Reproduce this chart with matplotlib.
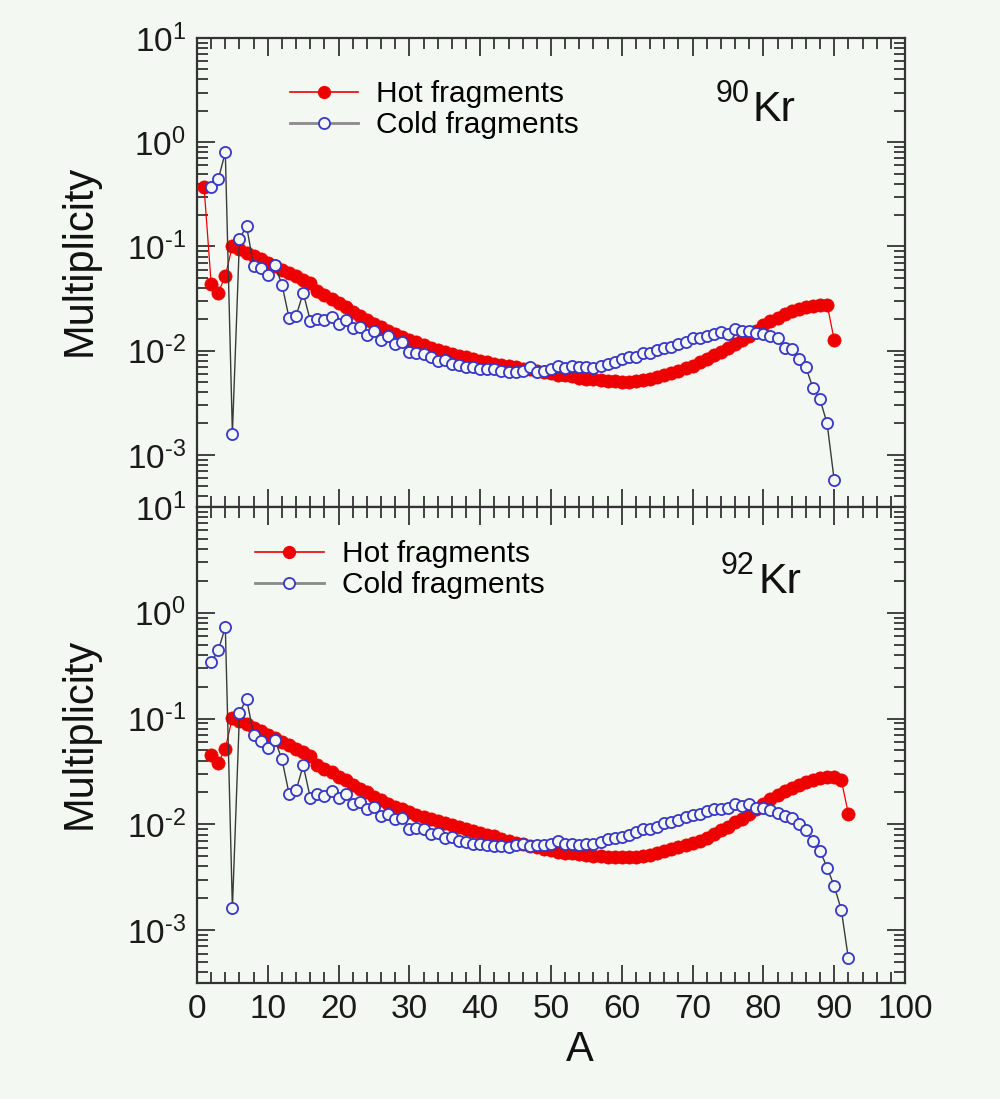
import numpy as np
import matplotlib
matplotlib.use('Agg')
import matplotlib.pyplot as plt
from matplotlib.lines import Line2D
from matplotlib.ticker import LogLocator, MultipleLocator, FuncFormatter, NullFormatter

plt.rcParams['font.family'] = ['Liberation Sans', 'DejaVu Sans']
plt.rcParams['mathtext.fontset'] = 'custom'
plt.rcParams['mathtext.rm'] = 'Liberation Sans'
plt.rcParams['mathtext.it'] = 'Liberation Sans'
plt.rcParams['mathtext.default'] = 'regular'

# ---------------- data ----------------
a_hot_90 = list(range(1, 91))
hot_90 = [0.37, 0.044, 0.036, 0.052, 0.101, 0.094, 0.087, 0.081, 0.075, 0.070,
          0.065, 0.060, 0.056, 0.052, 0.048, 0.045, 0.037, 0.034, 0.031, 0.0285,
          0.026, 0.0237, 0.0217, 0.0198, 0.0182, 0.0168, 0.0156, 0.0145, 0.0135, 0.0127,
          0.0120, 0.0113, 0.0107, 0.0102, 0.0097, 0.0093, 0.0089, 0.0086, 0.0083, 0.0080,
          0.0077, 0.0075, 0.0073, 0.0071, 0.0069, 0.0067, 0.0066, 0.0064, 0.0062, 0.0061,
          0.0059, 0.0058, 0.0057, 0.0055, 0.0054, 0.0053, 0.0052, 0.0051, 0.0051, 0.0050,
          0.0050, 0.0051, 0.0052, 0.0054, 0.0056, 0.0058, 0.0061, 0.0064, 0.0068, 0.0072,
          0.0077, 0.0083, 0.0090, 0.0098, 0.0107, 0.0116, 0.0127, 0.0138, 0.0155, 0.0175,
          0.0192, 0.0208, 0.0225, 0.0240, 0.0252, 0.0262, 0.0270, 0.0276, 0.0277, 0.0127]

a_cold_90 = list(range(2, 91))
cold_90 = [0.37, 0.44, 0.80, 0.0016, 0.118, 0.157, 0.065, 0.062, 0.053,
           0.0665, 0.043, 0.0207, 0.0216, 0.0359, 0.0194, 0.0202, 0.0198, 0.0212, 0.0181,
           0.0198, 0.0166, 0.0170, 0.0142, 0.0155, 0.0127, 0.0139, 0.0117, 0.0122, 0.0098,
           0.0094, 0.0092, 0.0086, 0.0080, 0.0082, 0.0075, 0.0073, 0.0069, 0.0069, 0.0067,
           0.0066, 0.0067, 0.0064, 0.0063, 0.0062, 0.0064, 0.0069, 0.0063, 0.0064, 0.0066,
           0.0072, 0.0068, 0.0071, 0.0069, 0.0069, 0.0068, 0.0072, 0.0075, 0.0078, 0.0084,
           0.0086, 0.0087, 0.0094, 0.0094, 0.0102, 0.0107, 0.0109, 0.0117, 0.0122, 0.0131,
           0.0133, 0.0139, 0.0146, 0.0152, 0.0146, 0.0163, 0.0156, 0.0156, 0.0149, 0.0146,
           0.0139, 0.0131, 0.0107, 0.0104, 0.0084, 0.0069, 0.0044, 0.0034, 0.0020, 0.00057]

a_hot_92 = list(range(2, 93))
hot_92 = [0.045, 0.038, 0.052, 0.102, 0.095, 0.088, 0.082, 0.076, 0.070,
          0.065, 0.060, 0.056, 0.052, 0.048, 0.044, 0.036, 0.033, 0.031, 0.028,
          0.026, 0.0237, 0.0217, 0.020, 0.0183, 0.0168, 0.0156, 0.0146, 0.0138, 0.0130,
          0.0123, 0.0117, 0.0113, 0.0107, 0.0102, 0.0098, 0.0094, 0.0091, 0.0087, 0.0083,
          0.0080, 0.0077, 0.0073, 0.0070, 0.0067, 0.0065, 0.0063, 0.0061, 0.0059, 0.0057,
          0.0055, 0.0054, 0.0053, 0.0052, 0.0051, 0.0050, 0.0050, 0.0049, 0.0049, 0.0049,
          0.0049, 0.0049, 0.0050, 0.0051, 0.0054, 0.0056, 0.0059, 0.0061, 0.0064, 0.0066,
          0.0070, 0.0075, 0.0081, 0.0088, 0.0095, 0.0104, 0.0113, 0.0125, 0.0138, 0.0155,
          0.0172, 0.0190, 0.0207, 0.0222, 0.0237, 0.0250, 0.0262, 0.0272, 0.0278, 0.0280,
          0.0262, 0.0126]

a_cold_92 = list(range(2, 93))
cold_92 = [0.34, 0.44, 0.73, 0.0016, 0.113, 0.154, 0.070, 0.061, 0.0525,
           0.063, 0.041, 0.0195, 0.021, 0.036, 0.0179, 0.0195, 0.0187, 0.0208, 0.0179,
           0.0195, 0.0157, 0.0164, 0.0140, 0.0147, 0.0120, 0.0126, 0.0113, 0.0115, 0.0090,
           0.0092, 0.0090, 0.0081, 0.0083, 0.0074, 0.0076, 0.0069, 0.0068, 0.0065, 0.0065,
           0.0064, 0.0062, 0.0062, 0.0061, 0.0064, 0.0065, 0.0062, 0.0064, 0.0064, 0.0065,
           0.0069, 0.0065, 0.0065, 0.0064, 0.0065, 0.0065, 0.0068, 0.0073, 0.0074, 0.0076,
           0.0079, 0.0085, 0.0090, 0.0090, 0.0094, 0.0103, 0.0105, 0.0110, 0.0118, 0.0123,
           0.0126, 0.0134, 0.0140, 0.0140, 0.0144, 0.0157, 0.0150, 0.0157, 0.0144, 0.0144,
           0.0137, 0.0129, 0.0120, 0.0115, 0.0101, 0.0088, 0.0069, 0.0056, 0.0039, 0.0026,
           0.00156, 0.00054]

legend_labels = ['Hot fragments', 'Cold fragments']
x_ticks = [0, 10, 20, 30, 40, 50, 60, 70, 80, 90, 100]

# ---------------- style ----------------
BG = '#f4f8f2'
RED = '#ee0000'
BLUE = '#3737c8'
LINE_DARK = '#3a3a3a'
LEG_GRAY = '#8a8a8a'

fig = plt.figure(figsize=(10, 10.99), dpi=100, facecolor=BG)
ax1 = fig.add_axes([0.197, 0.5387, 0.708, 0.4267])
ax2 = fig.add_axes([0.197, 0.1056, 0.708, 0.4331])


def sup_fmt(v, p):
    e = int(round(np.log10(v)))
    s = str(abs(e))
    if e < 0:
        s = '\u2010' + s
    return r'$10^{%s}$' % s


def style(ax, show_x):
    ax.set_facecolor(BG)
    ax.set_yscale('log')
    ax.set_xlim(0, 100)
    ax.set_ylim(10 ** -3.5, 10)
    ax.xaxis.set_major_locator(MultipleLocator(10))
    ax.xaxis.set_minor_locator(MultipleLocator(2))
    ax.yaxis.set_major_locator(LogLocator(base=10, numticks=20))
    ax.yaxis.set_minor_locator(LogLocator(base=10, subs=np.arange(2, 10), numticks=20))
    ax.yaxis.set_major_formatter(FuncFormatter(sup_fmt))
    ax.yaxis.set_minor_formatter(NullFormatter())
    ax.tick_params(which='both', direction='in', top=True, right=True,
                   color='#333333', width=1.3)
    ax.tick_params(which='major', length=13, labelsize=24, pad=8, labelcolor='#1a1a1a')
    ax.tick_params(which='minor', length=8)
    if not show_x:
        ax.tick_params(labelbottom=False)
    for s in ax.spines.values():
        s.set_linewidth(1.6)
        s.set_color('#333333')


def draw(ax, a_hot, hot, a_cold, cold):
    ax.plot(a_hot, hot, color=RED, lw=0.9, marker='o', ms=9.5, mfc=RED, mec=RED,
            mew=0.5, zorder=3)
    ax.plot(a_cold, cold, color=LINE_DARK, lw=1.0, marker='o', ms=8, mfc=BG,
            mec=BLUE, mew=1.3, zorder=4)


style(ax1, False)
style(ax2, True)
draw(ax1, a_hot_90, hot_90, a_cold_90, cold_90)
draw(ax2, a_hot_92, hot_92, a_cold_92, cold_92)
ax2.set_xticks(x_ticks)

handles = [Line2D([], [], color=RED, lw=1.2, marker='o', ms=8.5, mfc=RED, mec=RED),
           Line2D([], [], color=LEG_GRAY, lw=2.0, marker='o', ms=8, mfc=BG, mec=BLUE, mew=1.3)]
for ax, anchor in ((ax1, (0.131, 0.91)), (ax2, (0.082, 0.93))):
    ax.legend(handles, legend_labels, loc='upper left', bbox_to_anchor=anchor,
              frameon=False, fontsize=21.5, handlelength=2.3, handletextpad=0.6,
              labelspacing=0.1, borderpad=0, borderaxespad=0, numpoints=1)

# isotope labels
fig.text(716 / 1000, 1 - 94 / 1099, '90', fontsize=22, ha='left', va='center', color='#111111')
fig.text(753 / 1000, 1 - 110 / 1099, 'Kr', fontsize=31, ha='left', va='center', color='#111111')
fig.text(721 / 1000, 1 - 566 / 1099, '92', fontsize=22, ha='left', va='center', color='#111111')
fig.text(758 / 1000, 1 - 582 / 1099, 'Kr', fontsize=31, ha='left', va='center', color='#111111')

# axis labels
fig.text(80 / 1000, 1 - 260 / 1099, 'Multiplicity', fontsize=30, rotation=90,
         ha='center', va='center', color='#111111')
fig.text(80 / 1000, 1 - 733 / 1099, 'Multiplicity', fontsize=30, rotation=90,
         ha='center', va='center', color='#111111')
fig.text(580 / 1000, 1 - 1050 / 1099, 'A', fontsize=30, ha='center', va='center',
         color='#111111')

fig.savefig('out.png', dpi=100, facecolor=BG)
